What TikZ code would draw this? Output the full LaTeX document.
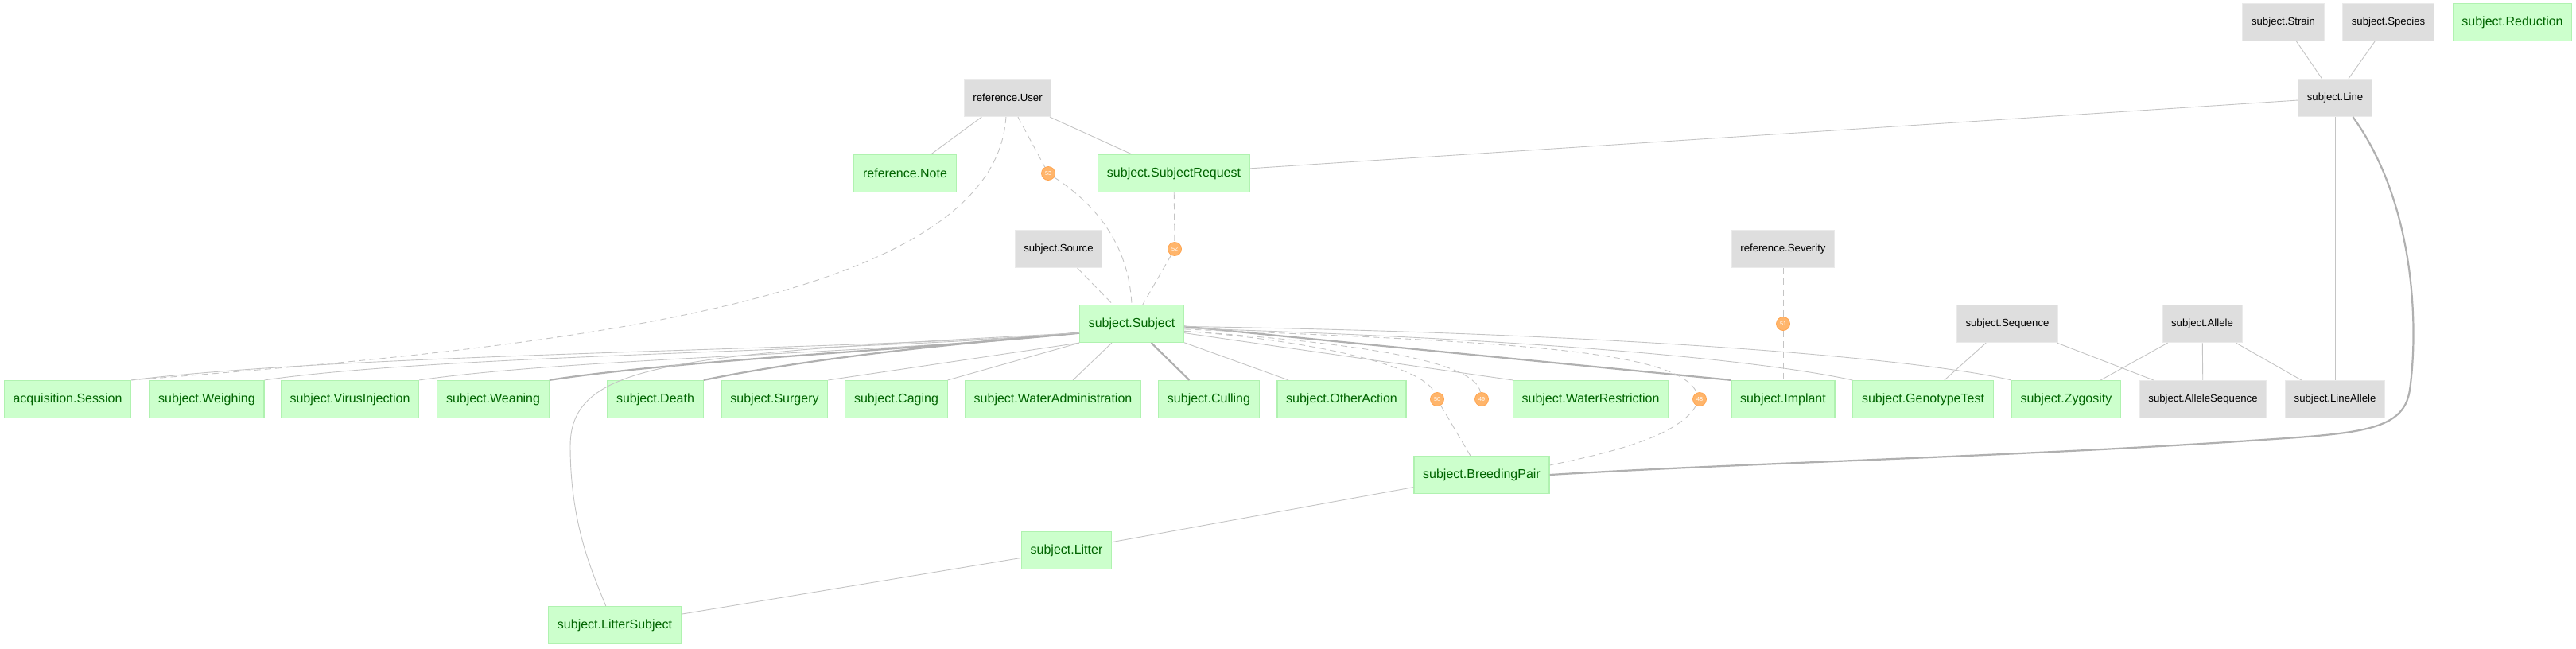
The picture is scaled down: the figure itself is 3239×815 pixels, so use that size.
\documentclass[tikz,border=0pt]{standalone}
\usepackage{fontspec}
\setmainfont{Liberation Sans}
\definecolor{partfill}{HTML}{CCFFCC}
\definecolor{partdraw}{HTML}{B0F2B0}
\definecolor{parttext}{HTML}{006400}
\definecolor{lookfill}{HTML}{DEDEDE}
\definecolor{lookdraw}{HTML}{EAEAEA}
\definecolor{edgegray}{HTML}{C4C4C4}
\definecolor{boldgray}{HTML}{B0B0B0}
\definecolor{dotfill}{HTML}{FFB56B}
\definecolor{dotdraw}{HTML}{FFA550}
\tikzset{
  tblnode/.style = {rectangle, align=center, inner xsep=5.6pt, inner ysep=0pt,
    minimum height=23.5pt, line width=0.6pt},
  parttbl/.style = {tblnode, fill=partfill, draw=partdraw, text=parttext,
    font=\fontsize{8}{9}\selectfont},% table of the pipeline
  lookuptbl/.style = {tblnode, fill=lookfill, draw=lookdraw, text=black,
    font=\fontsize{6.6}{8}\selectfont},% lookup table
  refdot/.style = {circle, inner sep=0pt, minimum size=8.5pt, fill=dotfill,
    draw=dotdraw, line width=0.4pt, text=white, font=\fontsize{3.6}{4}\selectfont},
  fk/.style = {draw=edgegray, line width=0.45pt},
  fkbold/.style = {draw=boldgray, line width=1.1pt},
  fkdash/.style = {draw=edgegray, line width=0.45pt, dash pattern=on 4pt off 2.6pt}
}
\begin{document}
\begin{tikzpicture}[x=0.5pt,y=-0.5pt]
		\useasboundingbox (0,0) rectangle (3239,815);
		% top rows
		\node [lookuptbl] (strain) at (2871,28) {subject.Strain};
		\node [lookuptbl] (spec) at (3003,28) {subject.Species};
		\node [parttbl] (red) at (3159,28) {subject.Reduction};
		\node [lookuptbl] (user) at (1267,123) {reference.User};
		\node [lookuptbl] (line) at (2936,123) {subject.Line};
		\node [parttbl] (note) at (1138,218) {reference.Note};
		\node [parttbl] (sreq) at (1476,218) {subject.SubjectRequest};
		\node [lookuptbl] (src) at (1331,313) {subject.Source};
		\node [lookuptbl] (sev) at (2242,313) {reference.Severity};
		\node [parttbl] (subj) at (1423,407) {subject.Subject};
		\node [lookuptbl] (seq) at (2524,407) {subject.Sequence};
		\node [lookuptbl] (all) at (2769,407) {subject.Allele};
		% row under subject
		\node [parttbl] (sess) at (85,502) {acquisition.Session};
		\node [parttbl] (wgh) at (260,502) {subject.Weighing};
		\node [parttbl] (vinj) at (440,502) {subject.VirusInjection};
		\node [parttbl] (wean) at (620,502) {subject.Weaning};
		\node [parttbl] (death) at (824,502) {subject.Death};
		\node [parttbl] (surg) at (974,502) {subject.Surgery};
		\node [parttbl] (cag) at (1127,502) {subject.Caging};
		\node [parttbl] (wadm) at (1324,502) {subject.WaterAdministration};
		\node [parttbl] (cull) at (1520,502) {subject.Culling};
		\node [parttbl] (oth) at (1687,502) {subject.OtherAction};
		\node [parttbl] (wres) at (2000,502) {subject.WaterRestriction};
		\node [parttbl] (imp) at (2242,502) {subject.Implant};
		\node [parttbl] (gtest) at (2418,502) {subject.GenotypeTest};
		\node [parttbl] (zyg) at (2598,502) {subject.Zygosity};
		\node [lookuptbl] (alseq) at (2770,502) {subject.AlleleSequence};
		\node [lookuptbl] (lal) at (2936,502) {subject.LineAllele};
		\node [parttbl] (bp) at (1863,597) {subject.BreedingPair};
		\node [parttbl] (lit) at (1341,692) {subject.Litter};
		\node [parttbl] (lsub) at (773,786) {subject.LitterSubject};
		% renamed references
		\node [refdot] (d53) at (1318,218) {53};
		\node [refdot] (d52) at (1477,313) {52};
		\node [refdot] (d51) at (2242,407) {51};
		\node [refdot] (d50) at (1807,502) {50};
		\node [refdot] (d49) at (1863,502) {49};
		\node [refdot] (d48) at (2137,502) {48};
		% lookups
		\draw [fk] (strain) -- (line);
		\draw [fk] (spec) -- (line);
		\draw [fk] (line) -- (sreq);
		\draw [fk] (line) -- (lal);
		\draw [fkbold] (line.-47) .. controls (3040,260) and (3040,420) .. (3030,490)
		  .. controls (3022,546) and (2960,545) .. (2800,556)
		  .. controls (2500,575) and (2200,582) .. (bp.east);
		\draw [fk] (user) -- (note);
		\draw [fk] (user) -- (sreq);
		\draw [fkdash] (user) -- (d53);
		\draw [fkdash] (d53) .. controls (1390,265) and (1420,320) .. (subj.north);
		\draw [fkdash] (user.-95) .. controls (1250,390) and (650,440) .. (sess.north east);
		\draw [fkdash] (sreq) -- (d52);
		\draw [fkdash] (d52) -- (subj);
		\draw [fkdash] (src) -- (subj);
		\draw [fkdash] (sev) -- (d51);
		\draw [fkdash] (d51) -- (imp);
		\draw [fk] (seq) -- (gtest);
		\draw [fk] (seq) -- (alseq);
		\draw [fk] (all) -- (zyg);
		\draw [fk] (all) -- (alseq);
		\draw [fk] (all) -- (lal);
		% subject parts
		\draw [fk] (sess.north east) .. controls (450,443) and (1100,440) .. (subj.190);
		\draw [fk] (wgh.north east) .. controls (560,445) and (1100,442) .. (subj.190);
		\draw [fk] (vinj.north east) .. controls (720,450) and (1120,444) .. (subj.190);
		\draw [fkbold] (wean.north east) .. controls (860,452) and (1150,440) .. (subj.190);
		\draw [fkbold] (death.north east) .. controls (1020,450) and (1200,432) .. (subj.190);
		\draw [fk] (surg.north east) -- (subj.south west);
		\draw [fk] (cag.north east) -- (subj.south west);
		\draw [fk] (wadm) -- (subj);
		\draw [fkbold] (cull) -- (subj);
		\draw [fk] (oth) -- (subj);
		\draw [fk] (wres.north west) -- (subj.-10);
		\draw [fkbold] (imp.north west) -- (subj.-3);
		\draw [fk] (subj.-5) .. controls (1900,425) and (2200,450) .. (gtest.north west);
		\draw [fk] (subj.-3) .. controls (2000,418) and (2400,448) .. (zyg.north west);
		\draw [fk] (subj.190) .. controls (850,445) and (718,455) .. (717,560)
		  .. controls (717,660) and (745,720) .. (lsub.115);
		\draw [fkdash] (subj.-8) .. controls (1650,428) and (1790,460) .. (d50);
		\draw [fkdash] (d50) -- (bp);
		\draw [fkdash] (subj.-8) .. controls (1720,432) and (1855,455) .. (d49);
		\draw [fkdash] (d49) -- (bp);
		\draw [fkdash] (subj.-6) .. controls (1900,430) and (2110,440) .. (d48);
		\draw [fkdash] (d48) .. controls (2110,550) and (2020,570) .. (bp.8);
		\draw [fk] (lit) -- (bp);
		\draw [fk] (lit) -- (lsub);
\end{tikzpicture}
\end{document}
